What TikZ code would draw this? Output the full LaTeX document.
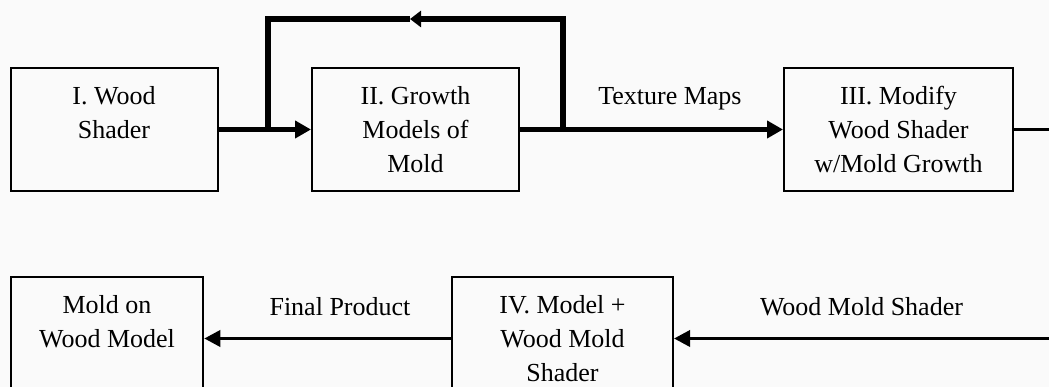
\documentclass[tikz,border=0pt]{standalone}
\usepackage{fontspec}
\setmainfont{Liberation Serif}
\usetikzlibrary{arrows.meta,positioning,calc}

\begin{document}
\begin{tikzpicture}
[
x=1pt, y=1pt,
stagebox/.style={rectangle, draw=black, line width=2pt, align=center, inner sep=0pt, minimum height=123pt, font=\fontsize{26}{34}\selectfont},
flowlabel/.style={font=\fontsize{26}{34}\selectfont},
heavyline/.style={line width=5.5pt},
heavyflow/.style={heavyline, -{Triangle[length=16pt,width=17pt]}},
lightline/.style={line width=3.5pt},
lightflow/.style={lightline, -{Triangle[length=16pt,width=16pt]}},
]
\clip (0,0) rectangle (1049,387);
\fill[black!2] (0,0) rectangle (1049,387);
%draw the top level
\node[stagebox, minimum width=207pt] (wood) at (114,257.5) {I. Wood\\Shader\\~};
\node[stagebox, minimum width=207pt] (grow) at (415.5,257.5) {II. Growth\\Models of\\Mold};
\node[stagebox, minimum width=229pt] (modify) at (898.5,257.5) {III. Modify\\Wood Shader\\w/Mold Growth};

\draw[heavyflow] (wood) -- (grow);
\draw[heavyflow] (grow) -- node[flowlabel, pos=0.57, yshift=31pt]{Texture Maps} (modify);

%feedback loop over box II
\coordinate (fbout) at (grow.east -| 563,0);
\coordinate (fbin) at (wood.east -| 268,0);
\coordinate (fbtip) at (410,368);
\draw[heavyline, -{Triangle[length=11pt,width=16pt]}] (fbout) |- (fbtip);
\draw[heavyline] (fbtip) -| (fbin);

%leaves the picture on the right
\coordinate (edgetop) at (modify.east -| 1049,0);
\draw[lightline] (modify) -- (edgetop);

%draw the bottom level
\node[stagebox, minimum width=192.5pt] (final) at (107,48.5) {Mold on\\Wood Model\\~};
\node[stagebox, minimum width=221pt] (combine) at (562.5,48.5) {IV. Model +\\Wood Mold\\Shader};

\coordinate (edgebot) at (combine.east -| 1049,0);
\draw[lightflow] (edgebot) -- node[flowlabel, pos=0.5, yshift=32pt]{Wood Mold Shader} (combine);
\draw[lightflow] (combine) -- node[flowlabel, pos=0.45, yshift=32pt]{Final Product} (final);
\end{tikzpicture}
\end{document}
